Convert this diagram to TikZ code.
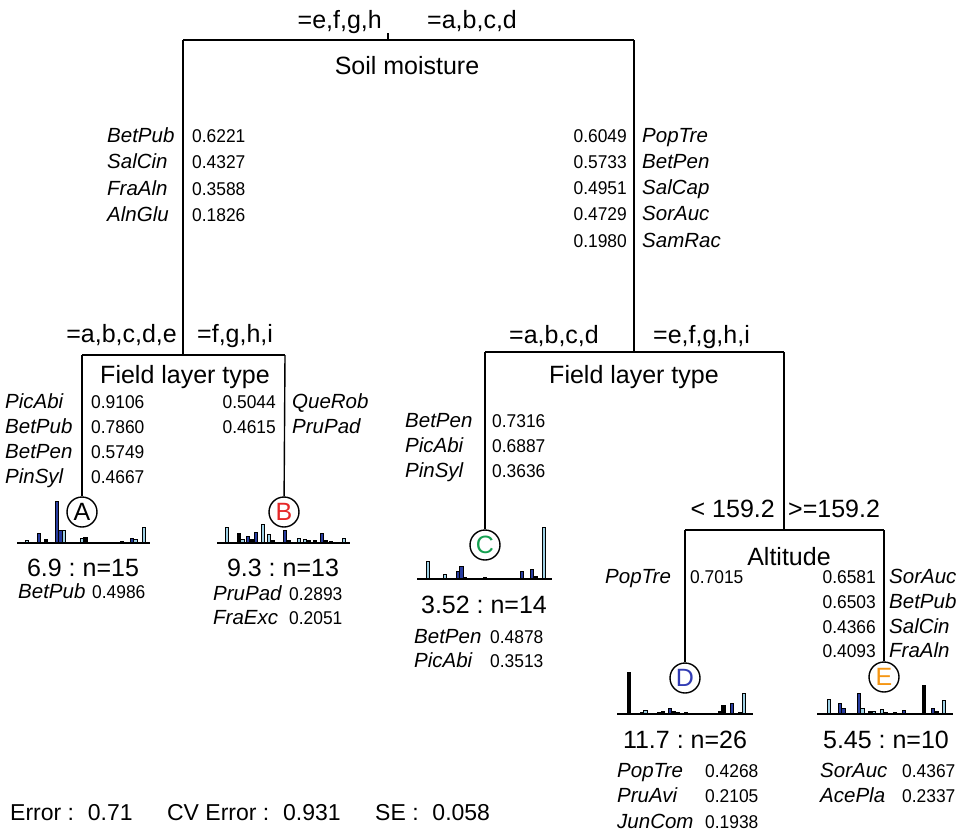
\documentclass[tikz,border=0pt]{standalone}
\usepackage{fontspec}
\setmainfont{Liberation Sans}
\newfontfamily\numfont[FakeStretch=0.94]{Liberation Sans}
\definecolor{lb}{RGB}{160,210,230}
\definecolor{db}{RGB}{40,60,160}
\definecolor{cB}{RGB}{230,40,40}
\definecolor{cC}{RGB}{20,160,80}
\definecolor{cD}{RGB}{50,60,180}
\definecolor{cE}{RGB}{245,150,20}
\frenchspacing
\tikzset{
  big/.style={font=\fontsize{25}{28}\selectfont, inner sep=0pt},
  sp/.style={font=\fontsize{20.5}{24}\selectfont\itshape, inner sep=0pt},
  num/.style={font=\fontsize{18.5}{22}\selectfont\numfont, inner sep=0pt},
  edge/.style={line width=1.4pt},
  leafc/.style={circle, draw, line width=1.4pt, minimum size=30pt, inner sep=0pt, font=\fontsize{25}{28}\selectfont, fill=white},
  bar/.style={draw=black, line width=0.7pt},
  hbase/.style={line width=2.2pt},
  errtxt/.style={font=\fontsize{23}{26}\selectfont, inner sep=0pt}
}
\newcommand\myhisto[4]{%
  \foreach \bx/\bh/\bc in {#4} {\filldraw[bar, fill=\bc] (\bx,#3) rectangle ++(3.8,-\bh);}
  \draw[hbase] (#1,#3) -- (#2,#3);
}
\newcommand\cs{\hspace{0.6em}}
\begin{document}
\begin{tikzpicture}[x=1pt,y=-1pt]
\useasboundingbox (0,0) rectangle (978,833);
% ---------- root
\coordinate (rt) at (388,33);
\coordinate (r) at (388,40);
\coordinate (rl) at (183,40);
\coordinate (rr) at (634,40);
\node[big, anchor=base east] (rlab1) at (382,28) {=e,f,g,h};
\node[big, anchor=base west] (rlab2) at (427,28) {=a,b,c,d};
\node[big, anchor=base] (rname) at (407,74) {Soil moisture};
\foreach \s/\v/\y [count=\i] in {BetPub/0.6221/142, SalCin/0.4327/168, FraAln/0.3588/195, AlnGlu/0.1826/221}{
  \node[sp, anchor=base west] (rls\i) at (107,\y) {\s};
  \node[num, anchor=base west] (rlv\i) at (192,\y) {\v};
}
\foreach \s/\v/\y [count=\i] in {PopTre/0.6049/142, BetPen/0.5733/168, SalCap/0.4951/194, SorAuc/0.4729/220, SamRac/0.1980/247}{
  \node[num, anchor=base east] (rrv\i) at (627,\y) {\v};
  \node[sp, anchor=base west] (rrs\i) at (642,\y) {\s};
}
% ---------- left subtree
\coordinate (L) at (183,355);
\coordinate (Ll) at (82,355);
\coordinate (Lr) at (285,355);
\node[big, anchor=base east] (llab1) at (177,342) {=a,b,c,d,e};
\node[big, anchor=base west] (llab2) at (197,342) {=f,g,h,i};
\node[big, anchor=base] (lname) at (185,383) {Field layer type};
\foreach \s/\v/\y [count=\i] in {PicAbi/0.9106/408, BetPub/0.7860/433, BetPen/0.5749/458, PinSyl/0.4667/483}{
  \node[sp, anchor=base west] (lls\i) at (5,\y) {\s};
  \node[num, anchor=base west] (llv\i) at (91,\y) {\v};
}
\foreach \s/\v/\y [count=\i] in {QueRob/0.5044/408, PruPad/0.4615/433}{
  \node[num, anchor=base east] (lrv\i) at (276,\y) {\v};
  \node[sp, anchor=base west] (lrs\i) at (292,\y) {\s};
}
% ---------- right subtree
\coordinate (R) at (634,352);
\coordinate (Rl) at (485,352);
\coordinate (Rr) at (784,352);
\node[big, anchor=base east] (Rlab1) at (599,343) {=a,b,c,d};
\node[big, anchor=base west] (Rlab2) at (653,343) {=e,f,g,h,i};
\node[big, anchor=base] (Rname) at (634,383) {Field layer type};
\foreach \s/\v/\y [count=\i] in {BetPen/0.7316/427, PicAbi/0.6887/452, PinSyl/0.3636/477}{
  \node[sp, anchor=base west] (Rls\i) at (405,\y) {\s};
  \node[num, anchor=base west] (Rlv\i) at (492,\y) {\v};
}
% ---------- altitude
\coordinate (Alt) at (784,530);
\coordinate (Altl) at (685,530);
\coordinate (Altr) at (884,530);
\node[big, anchor=base east] (alab1) at (775,517) {< 159.2};
\node[big, anchor=base west] (alab2) at (788,517) {>=159.2};
\node[big, anchor=base] (aname) at (789,565) {Altitude};
\node[sp, anchor=base west] (als1) at (605,583) {PopTre};
\node[num, anchor=base west] (alv1) at (690,583) {0.7015};
\foreach \s/\v/\y [count=\i] in {SorAuc/0.6581/583, BetPub/0.6503/608, SalCin/0.4366/633, FraAln/0.4093/657}{
  \node[num, anchor=base east] (arv\i) at (876,\y) {\v};
  \node[sp, anchor=base west] (ars\i) at (889,\y) {\s};
}
% ---------- leaves
\node[leafc] (A) at (82,512) {A};
\node[leafc, text=cB] (B) at (284,512) {B};
\node[leafc, text=cC] (C) at (485,545) {C};
\node[leafc, text=cD] (D) at (685,678) {D};
\node[leafc, text=cE] (E) at (884,677) {E};
% ---------- edges
\draw[edge] (rt) -- (r);
\draw[edge] (rl) -- (rr);
\draw[edge] (rl) -- (L);
\draw[edge] (rr) -- (R);
\draw[edge] (Ll) -- (Lr);
\draw[edge] (Ll) -- (A);
\draw[edge] (Lr) -- (B);
\draw[edge] (Rl) -- (Rr);
\draw[edge] (Rl) -- (C);
\draw[edge] (Rr) -- (Alt);
\draw[edge] (Altl) -- (Altr);
\draw[edge] (Altl) -- (D);
\draw[edge] (Altr) -- (E);
% ---------- histograms
\myhisto{17}{150}{543}{25/3/lb, 37/10/db, 44/4/black, 55/42/db, 58.5/13/db, 62/13/lb, 80/5/lb, 83.5/6/black, 120/2/black, 130/5/db, 133.5/4/lb, 142/16/lb}
\myhisto{217}{350}{543}{225/16/lb, 237/10/black, 240.5/4/lb, 246/7/db, 250/4/black, 254/11/db, 261/19/lb, 267/9/lb, 270.5/3/black, 283/13/db, 286.5/3/black, 297/5/lb, 303/4/lb, 306.5/3/black, 313/3/black, 320/10/db, 323.5/3/black, 329/2/black, 342/5/lb}
\myhisto{417}{552}{579}{426/18/lb, 443/5/lb, 456/8/db, 459.5/13/db, 463/2/black, 483/2/black, 520/8/db, 530/10/db, 533.5/3/black, 542/52/lb}
\myhisto{617}{753}{714}{627/42/black, 640/2/black, 643.5/4/lb, 657/2/black, 661/3/black, 668/6/db, 671.5/3/black, 676/2/black, 684/1.5/black, 718/3/black, 721.5/9/black, 730/11/db, 738/2/black, 742/21/lb}
\myhisto{817}{953}{714}{827/15/lb, 838/11/db, 841.5/6/db, 857/21/db, 860.5/6/lb, 868/3/black, 872/3/lb, 880/5/lb, 883.5/2/black, 893/2/black, 902/4/db, 922/29/black, 931/6/db, 934.5/3/black, 942/14/lb}
% ---------- leaf texts
\node[big, anchor=base] (At) at (83,576) {6.9 : n=15};
\node[big, anchor=base] (Bt) at (283,576) {9.3 : n=13};
\node[big, anchor=base] (Ct) at (484,613) {3.52 : n=14};
\node[big, anchor=base] (Dt) at (685,748) {11.7 : n=26};
\node[big, anchor=base] (Et) at (886,748) {5.45 : n=10};
\node[sp, anchor=base west] (As1) at (18,598) {BetPub};
\node[num, anchor=base west] (Av1) at (92,598) {0.4986};
\foreach \s/\v/\y [count=\i] in {PruPad/0.2893/600, FraExc/0.2051/624}{
  \node[sp, anchor=base west] (Bs\i) at (213,\y) {\s};
  \node[num, anchor=base west] (Bv\i) at (289,\y) {\v};
}
\foreach \s/\v/\y [count=\i] in {BetPen/0.4878/643, PicAbi/0.3513/667}{
  \node[sp, anchor=base west] (Cs\i) at (414,\y) {\s};
  \node[num, anchor=base west] (Cv\i) at (490,\y) {\v};
}
\foreach \s/\v/\y [count=\i] in {PopTre/0.4268/777, PruAvi/0.2105/802, JunCom/0.1938/828}{
  \node[sp, anchor=base west] (Ds\i) at (617,\y) {\s};
  \node[num, anchor=base west] (Dv\i) at (705,\y) {\v};
}
\foreach \s/\v/\y [count=\i] in {SorAuc/0.4367/777, AcePla/0.2337/802}{
  \node[sp, anchor=base west] (Es\i) at (820,\y) {\s};
  \node[num, anchor=base west] (Ev\i) at (902,\y) {\v};
}
% ---------- error line
\node[errtxt, anchor=base west] (err) at (10,820) {Error :\cs 0.71\hspace{1.5em}CV Error :\cs 0.931\hspace{1.5em}SE :\cs 0.058};
\end{tikzpicture}
\end{document}
